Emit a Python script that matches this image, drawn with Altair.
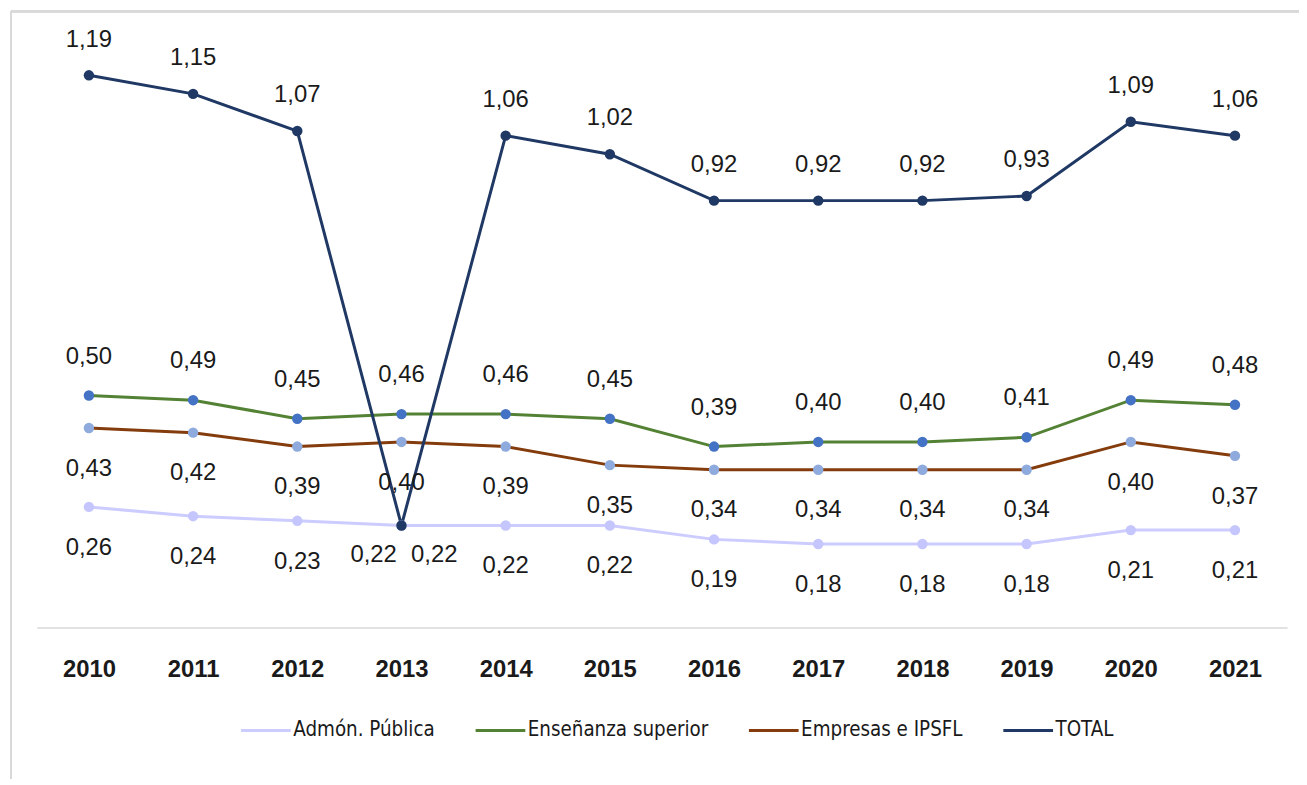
import altair as alt
import pandas as pd

years = [str(y) for y in range(2010, 2022)]
admon = [0.26, 0.24, 0.23, 0.22, 0.22, 0.22, 0.19, 0.18, 0.18, 0.18, 0.21, 0.21]
ensenanza = [0.50, 0.49, 0.45, 0.46, 0.46, 0.45, 0.39, 0.40, 0.40, 0.41, 0.49, 0.48]
empresas = [0.43, 0.42, 0.39, 0.40, 0.39, 0.35, 0.34, 0.34, 0.34, 0.34, 0.40, 0.37]
total = [1.19, 1.15, 1.07, 0.22, 1.06, 1.02, 0.92, 0.92, 0.92, 0.93, 1.09, 1.06]

series = ["Admón. Pública", "Enseñanza superior", "Empresas e IPSFL", "TOTAL"]
line_colors = ["#CCCCFF", "#548235", "#843C0C", "#1F3864"]
marker_colors = ["#C6C6FF", "#4472C4", "#8FAADC", "#1F3864"]

rows = []
for s, vals in zip(series, [admon, ensenanza, empresas, total]):
    for y, v in zip(years, vals):
        rows.append({"year": y, "serie": s, "value": v})
df = pd.DataFrame(rows)

FONT = "Liberation Sans"
LEGEND_FONT = "DejaVu Sans Condensed, Liberation Sans Narrow, Liberation Sans"
W, H = 1258, 607

base = alt.Chart(df).encode(
    x=alt.X("year:O", scale=alt.Scale(type="point", padding=0.5),
            axis=alt.Axis(title=None, ticks=False, grid=False, domainColor="#D9D9D9",
                          domainWidth=1.5, labelFont=FONT, labelFontSize=24,
                          labelFontWeight="bold", labelColor="#1a1a1a",
                          labelPadding=30, labelAngle=0)),
    y=alt.Y("value:Q", scale=alt.Scale(domain=[0, 1.3], nice=False, zero=True), axis=None),
).transform_calculate(label="replace(format(datum.value, '.2f'), '.', ',')")

lines = base.mark_line(strokeWidth=3).encode(
    color=alt.Color("serie:N", sort=series,
                    scale=alt.Scale(domain=series, range=line_colors),
                    legend=alt.Legend(title=None, orient="none", direction="horizontal",
                                      legendX=204, legendY=684, symbolType="stroke",
                                      symbolSize=2500, symbolStrokeWidth=3,
                                      labelFont=LEGEND_FONT, labelFontSize=20.5,
                                      labelColor="#1a1a1a", labelOffset=1, labelLimit=0,
                                      columnPadding=34, padding=0))
)

points = base.mark_circle(size=110, opacity=1).encode(
    fill=alt.Fill("serie:N", scale=alt.Scale(domain=series, range=marker_colors), legend=None)
)

def labels(serie, dy, exclude_2013=False):
    cond = f"datum.serie == '{serie}'"
    if exclude_2013:
        cond += " && datum.year != '2013'"
    return base.mark_text(dy=dy, fontSize=24, font=FONT, color="#1a1a1a").encode(
        text="label:N"
    ).transform_filter(cond)

def special(serie, dx, dy):
    cond = f"datum.serie == '{serie}' && datum.year == '2013'"
    return base.mark_text(dx=dx, dy=dy, fontSize=24, font=FONT, color="#1a1a1a").encode(
        text="label:N"
    ).transform_filter(cond)

border_top = alt.Chart(df).mark_rule(color="#D9D9D9", strokeWidth=2).encode(
    x=alt.value(-26), x2=alt.value(1300), y=alt.value(-13)
)
border_left = alt.Chart(df).mark_rule(color="#D9D9D9", strokeWidth=2).encode(
    x=alt.value(-26), y=alt.value(-13), y2=alt.value(800)
)

chart = alt.layer(
    border_top, border_left,
    lines, points,
    labels("TOTAL", -36, True),
    labels("Enseñanza superior", -39),
    labels("Empresas e IPSFL", 41),
    labels("Admón. Pública", 41, True),
    special("Admón. Pública", -28, 30),
    special("TOTAL", 33, 30),
).properties(
    width=W, height=H,
    autosize=alt.AutoSizeParams(type="none"),
    padding={"left": 29, "top": 14, "right": 12, "bottom": 150},
).configure(
    background="white",
    view=alt.ViewConfig(stroke="transparent", strokeWidth=0),
)

chart.save("out.html", embed_options={"renderer": "svg", "actions": False})
